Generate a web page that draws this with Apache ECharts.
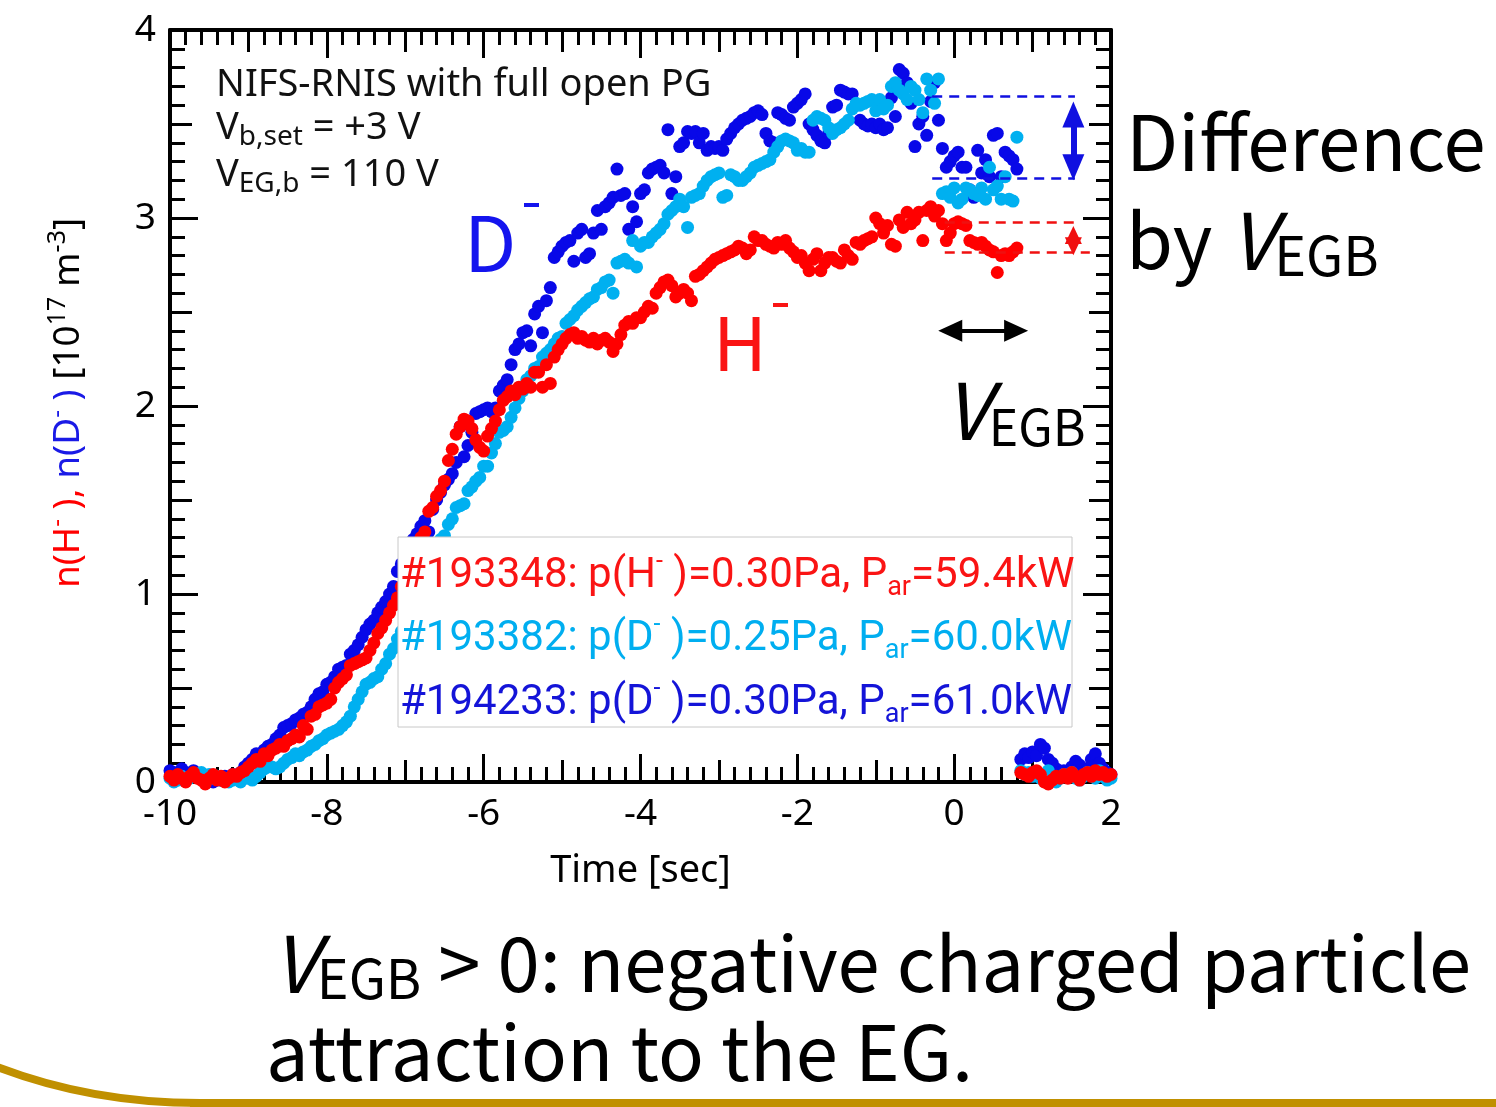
<!DOCTYPE html>
<html lang="en">
<head>
  <meta charset="UTF-8">
  <title>n(H-), n(D-) vs Time</title>
  <script src="https://cdn.jsdelivr.net/npm/echarts@6/dist/echarts.min.js"></script>
  <style>
    html, body { margin: 0; padding: 0; background: #fff; }
    #chart { width: 1496px; height: 1107px; }
  </style>
</head>
<body>
  <div id="chart"></div>
  <script>
    // sampling times [sec]
    var time = [
      -10, -9.95, -9.9, -9.85, -9.8, -9.75, -9.7, -9.65, -9.6, -9.55, -9.5, -9.45, -9.4, -9.35, -9.3, -9.25, -9.2, -9.15, -9.1, -9.05,
      -9, -8.95, -8.9, -8.85, -8.8, -8.75, -8.7, -8.65, -8.6, -8.55, -8.5, -8.45, -8.4, -8.35, -8.3, -8.25, -8.2, -8.15, -8.1, -8.05,
      -8, -7.95, -7.9, -7.85, -7.8, -7.75, -7.7, -7.65, -7.6, -7.55, -7.5, -7.45, -7.4, -7.35, -7.3, -7.25, -7.2, -7.15, -7.1, -7.05,
      -7, -6.95, -6.9, -6.85, -6.8, -6.75, -6.7, -6.65, -6.6, -6.55, -6.5, -6.45, -6.4, -6.35, -6.3, -6.25, -6.2, -6.15, -6.1, -6.05,
      -6, -5.95, -5.9, -5.85, -5.8, -5.75, -5.7, -5.65, -5.6, -5.55, -5.5, -5.45, -5.4, -5.35, -5.3, -5.25, -5.2, -5.15, -5.1, -5.05,
      -5, -4.95, -4.9, -4.85, -4.8, -4.75, -4.7, -4.65, -4.6, -4.55, -4.5, -4.45, -4.4, -4.35, -4.3, -4.25, -4.2, -4.15, -4.1, -4.05,
      -4, -3.95, -3.9, -3.85, -3.8, -3.75, -3.7, -3.65, -3.6, -3.55, -3.5, -3.45, -3.4, -3.35, -3.3, -3.25, -3.2, -3.15, -3.1, -3.05,
      -3, -2.95, -2.9, -2.85, -2.8, -2.75, -2.7, -2.65, -2.6, -2.55, -2.5, -2.45, -2.4, -2.35, -2.3, -2.25, -2.2, -2.15, -2.1, -2.05,
      -2, -1.95, -1.9, -1.85, -1.8, -1.75, -1.7, -1.65, -1.6, -1.55, -1.5, -1.45, -1.4, -1.35, -1.3, -1.25, -1.2, -1.15, -1.1, -1.05,
      -1, -0.95, -0.9, -0.85, -0.8, -0.75, -0.7, -0.65, -0.6, -0.55, -0.5, -0.45, -0.4, -0.35, -0.3, -0.25, -0.2, -0.15, -0.1, -0.05,
      0, 0.05, 0.1, 0.15, 0.2, 0.25, 0.3, 0.35, 0.4, 0.45, 0.5, 0.55, 0.6, 0.65, 0.7, 0.75, 0.8, 0.85, 0.9, 0.95,
      1, 1.05, 1.1, 1.15, 1.2, 1.25, 1.3, 1.35, 1.4, 1.45, 1.5, 1.55, 1.6, 1.65, 1.7, 1.75, 1.8, 1.85, 1.9, 1.95, 2
    ];

    // #193348  H-  p=0.30Pa  [1e17 m^-3]
    var nH193348 = [
      0.03, 0.01, 0.04, 0.02, 0.00, 0.03, 0.05, 0.02, 0.01, -0.01, 0.02, 0.04, 0.01, 0.03, 0.00, 0.02, 0.04, 0.03, 0.05, 0.06,
      0.08, 0.1, 0.12, 0.11, 0.15, 0.14, 0.17, 0.18, 0.2, 0.19, 0.22, 0.23, 0.25, 0.24, 0.3, 0.28, 0.35, 0.36, 0.4, 0.41,
      0.42, 0.44, 0.5, 0.53, 0.55, 0.57, 0.62, 0.63, 0.64, 0.65, 0.66, 0.7, 0.74, 0.79, 0.82, 0.86, 0.9, 0.94, 0.98, 1.04,
      1.1, 1.15, 1.2, 1.25, 1.3, 1.33, 1.44, 1.46, 1.52, 1.55, 1.6, 1.71, 1.77, 1.85, 1.89, 1.93, 1.92, 1.88, 1.82, 1.78,
      1.76, 1.84, 1.88, 1.92, 1.98, 2.03, 2.05, 2.08, 2.06, 2.1, 2.09, 2.12, 2.1, 2.18, 2.18, 2.1, 2.22, 2.12, 2.26, 2.3,
      2.33, 2.36, 2.38, 2.39, 2.36, 2.37, 2.35, 2.34, 2.36, 2.33, 2.35, 2.36, 2.34, 2.29, 2.33, 2.38, 2.43, 2.45, 2.44, 2.47,
      2.47, 2.5, 2.53, 2.52, 2.6, 2.63, 2.66, 2.67, 2.64, 2.58, 2.6, 2.62, 2.6, 2.56, 2.69, 2.7, 2.72, 2.74, 2.76, 2.78,
      2.79, 2.8, 2.81, 2.82, 2.83, 2.85, 2.84, 2.81, 2.83, 2.9, 2.88, 2.88, 2.86, 2.85, 2.84, 2.87, 2.86, 2.88, 2.84, 2.82,
      2.79, 2.8, 2.76, 2.72, 2.78, 2.81, 2.72, 2.76, 2.79, 2.79, 2.77, 2.76, 2.83, 2.8, 2.78, 2.87, 2.86, 2.88, 2.89, 2.9,
      3.0, 2.97, 2.92, 2.96, 2.86, 2.85, 2.99, 2.95, 3.03, 2.97, 2.99, 3.03, 2.88, 3.04, 3.06, 3.01, 3.04, 2.97, 2.88, 2.92,
      2.97, 2.98, 2.97, 2.96, 2.88, 2.87, 2.86, 2.87, 2.85, 2.83, 2.82, 2.71, 2.8, 2.81, 2.8, 2.82, 2.84, 0.05, 0.04, 0.03,
      0.05, 0.06, 0.04, 0.0, -0.01, 0.01, 0.03, 0.02, 0.04, 0.02, 0.05, 0.03, 0.01, 0.04, 0.05, 0.03, 0.06, 0.04, 0.05, 0.03, 0.04
    ];

    // #193382  D-  p=0.25Pa
    var nD193382 = [
      0.02, 0.0, 0.01, 0.03, 0.01, 0.02, 0.04, 0.03, 0.05, 0.03, 0.04, 0.02, 0.03, 0.01, 0.02, 0.0, 0.01, 0.02, 0.0, 0.02,
      0.02, 0.01, 0.03, 0.05, 0.07, 0.08, 0.08, 0.07, 0.08, 0.1, 0.12, 0.13, 0.15, 0.14, 0.16, 0.17, 0.19, 0.2, 0.22, 0.23,
      0.25, 0.26, 0.27, 0.28, 0.3, 0.32, 0.35, 0.4, 0.44, 0.48, 0.52, 0.53, 0.55, 0.56, 0.6, 0.63, 0.68, 0.71, 0.76, 0.8,
      0.85, 0.9, 0.95, 1.0, 1.05, 1.1, 1.15, 1.2, 1.25, 1.29, 1.31, 1.37, 1.4, 1.46, 1.47, 1.48, 1.55, 1.57, 1.6, 1.62,
      1.68, 1.68, 1.75, 1.8, 1.86, 1.87, 1.89, 1.94, 1.99, 2.04, 2.08, 2.14, 2.16, 2.2, 2.21, 2.26, 2.28, 2.3, 2.33, 2.36,
      2.37, 2.44, 2.46, 2.48, 2.51, 2.53, 2.55, 2.57, 2.58, 2.62, 2.63, 2.66, 2.67, 2.6, 2.76, 2.77, 2.78, 2.76, 2.88, 2.74,
      2.85, 2.87, 2.87, 2.9, 2.92, 2.94, 2.97, 3.02, 3.04, 3.06, 3.1, 3.06, 2.95, 3.11, 3.12, 3.13, 3.17, 3.2, 3.22, 3.23,
      3.24, 3.11, 3.12, 3.23, 3.22, 3.2, 3.2, 3.22, 3.24, 3.27, 3.28, 3.29, 3.3, 3.31, 3.35, 3.38, 3.41, 3.42, 3.41, 3.4,
      3.36, 3.37, 3.35, 3.35, 3.52, 3.54, 3.53, 3.52, 3.48, 3.45, 3.47, 3.48, 3.5, 3.52, 3.58, 3.61, 3.6, 3.61, 3.62, 3.63,
      3.57, 3.63, 3.58, 3.6, 3.7, 3.72, 3.68, 3.66, 3.63, 3.7, 3.68, 3.63, 3.56, 3.74, 3.68, 3.61, 3.74, 3.13, 3.14, 3.11,
      3.16, 3.08, 3.1, 3.16, 3.15, 3.13, 3.12, 3.16, 3.1, 3.27, 3.15, 3.17, 3.1, 3.22, 3.1, 3.09, 3.43, 0.06, 0.04, 0.05,
      0.03, 0.05, 0.02, 0.04, 0.06, 0.03, 0.0, 0.02, 0.04, 0.03, 0.05, 0.02, 0.01, 0.03, 0.05, 0.04, 0.02, 0.06, 0.03, 0.01, 0.02
    ];

    // #194233  D-  p=0.30Pa
    var nD194233 = [
      0.06, 0.05, 0.04, 0.07, 0.05, 0.03, 0.06, 0.04, 0.02, 0.03, 0.01, 0.0, 0.02, 0.01, 0.03, 0.02, 0.04, 0.03, 0.05, 0.08,
      0.1, 0.12, 0.15, 0.14, 0.17, 0.19, 0.2, 0.23, 0.25, 0.29, 0.3, 0.31, 0.33, 0.34, 0.36, 0.37, 0.4, 0.44, 0.47, 0.48,
      0.52, 0.53, 0.56, 0.6, 0.61, 0.62, 0.68, 0.7, 0.73, 0.77, 0.81, 0.84, 0.86, 0.9, 0.93, 0.96, 1.0, 1.04, 1.12, 1.16,
      1.2, 1.26, 1.29, 1.32, 1.36, 1.39, 1.33, 1.45, 1.5, 1.54, 1.58, 1.61, 1.64, 1.7, 1.89, 1.73, 1.79, 1.86, 1.96, 1.97,
      1.98, 1.99, 1.97, 1.99, 2.08, 2.11, 2.14, 2.22, 2.3, 2.33, 2.39, 2.4, 2.32, 2.49, 2.53, 2.39, 2.56, 2.63, 2.79, 2.82,
      2.85, 2.87, 2.88, 2.77, 2.92, 2.94, 2.79, 2.81, 2.92, 3.04, 2.94, 3.06, 3.08, 3.11, 3.26, 3.12, 3.13, 2.94, 3.06, 2.98,
      3.13, 3.15, 3.24, 3.26, 3.27, 3.28, 3.24, 3.47, 3.13, 3.22, 3.38, 3.4, 3.46, 3.45, 3.46, 3.4, 3.45, 3.36, 3.38, 3.37,
      3.38, 3.36, 3.42, 3.45, 3.48, 3.5, 3.52, 3.53, 3.54, 3.56, 3.57, 3.55, 3.45, 3.41, 3.4, 3.56, 3.55, 3.53, 3.52, 3.59,
      3.61, 3.63, 3.66, 3.5, 3.47, 3.44, 3.41, 3.4, 3.45, 3.59, 3.6, 3.68, 3.67, 3.66, 3.66, 3.6, 3.52, 3.5, 3.49, 3.5,
      3.48, 3.5, 3.47, 3.48, 3.64, 3.54, 3.79, 3.77, 3.72, 3.61, 3.38, 3.5, 3.54, 3.44, 3.62, 3.72, 3.52, 3.37, 3.27, 3.3,
      3.33, 3.35, 3.27, 3.27, 3.15, 3.11, 3.36, 3.24, 3.31, 3.22, 3.44, 3.45, 3.22, 3.35, 3.33, 3.31, 3.26, 0.12, 0.15, 0.13,
      0.16, 0.14, 0.2, 0.18, 0.12, 0.1, 0.07, 0.05, 0.06, 0.04, 0.08, 0.11, 0.09, 0.05, 0.07, 0.12, 0.15, 0.1, 0.07, 0.05, 0.04
    ];

    // annotation levels (data units)
    var blueLevels = [3.65, 3.21];
    var redLevels = [2.98, 2.82];
    var blueDashX = [-0.28, 1.54];
    var redDashX = [-0.12, 1.54, 1.73];
    var arrowX = 1.52;
    var vegbArrow = { x: [-0.05, 0.79], y: 2.4 };

    var RED = '#ff0000', LBLUE = '#00b0f0', DBLUE = '#0808e8';
    var FONT = '"Noto Sans CJK JP", "Noto Sans", sans-serif';
    var LATIN = '"Noto Sans", "DejaVu Sans", sans-serif';
    var LEG = 'Roboto, "Liberation Sans", sans-serif';

    function pairs(ts, vs) {
      return ts.map(function (t, i) { return [t, vs[i]]; });
    }

    // frame axis: ticks pointing inward, labels only on bottom / left
    function frameAxis(pos, min, max, interval, withLabel, extra) {
      var a = {
        type: 'value', position: pos, min: min, max: max, interval: interval,
        splitLine: { show: false },
        axisLine: { show: true, onZero: false, lineStyle: { color: '#000', width: 4 } },
        axisTick: { show: true, inside: true, length: 28, lineStyle: { color: '#000', width: 3 } },
        minorTick: { show: true, splitNumber: 10, length: 15, lineStyle: { color: '#000', width: 3 } },
        axisLabel: { show: withLabel, color: '#000', fontSize: 37, fontFamily: LATIN, margin: 14 }
      };
      return Object.assign(a, extra || {});
    }
    // medium ticks (odd seconds / half units)
    function midAxis(pos, min, max, interval) {
      return {
        type: 'value', position: pos, min: min, max: max, interval: interval,
        splitLine: { show: false },
        axisLine: { show: false, onZero: false },
        axisTick: { show: true, inside: true, length: 22, lineStyle: { color: '#000', width: 3 } },
        minorTick: { show: false },
        axisLabel: { show: false }
      };
    }

    var dashed = function (color) { return { color: color, width: 2.5, type: [10, 7] }; };

    var legendRich = {
      m: { fontSize: 42, lineHeight: 52, fontFamily: LEG },
      sup: { fontSize: 25, lineHeight: 25, verticalAlign: 'top', fontFamily: LEG },
      sub: { fontSize: 27, lineHeight: 27, verticalAlign: 'bottom', fontFamily: LEG }
    };
    var infoRich = {
      m: { fontSize: 38, lineHeight: 46, fontFamily: LATIN },
      sub: { fontSize: 28, lineHeight: 28, verticalAlign: 'bottom', fontFamily: LATIN }
    };
    var bigRich = {
      m: { fontSize: 76, lineHeight: 84, fontFamily: FONT },
      v: { fontSize: 78, lineHeight: 84, fontStyle: 'italic', fontFamily: FONT },
      s: { fontSize: 54, lineHeight: 54, verticalAlign: 'bottom', fontFamily: FONT },
      s2: { fontSize: 50, lineHeight: 50, verticalAlign: 'bottom', fontFamily: FONT }
    };
    var yRich = {
      r: { fill: RED, fontSize: 37, lineHeight: 46, fontFamily: LATIN },
      rs: { fill: RED, fontSize: 24, lineHeight: 24, verticalAlign: 'top', fontFamily: LATIN },
      b: { fill: '#1a1ae6', fontSize: 37, lineHeight: 46, fontFamily: LATIN },
      bs: { fill: '#1a1ae6', fontSize: 24, lineHeight: 24, verticalAlign: 'top', fontFamily: LATIN },
      k: { fill: '#000', fontSize: 37, lineHeight: 46, fontFamily: LATIN },
      ks: { fill: '#000', fontSize: 25, lineHeight: 25, verticalAlign: 'top', fontFamily: LATIN }
    };

    function label(x, y, text, rich, color) {
      return {
        type: 'text', x: x, y: y, z: 110,
        style: { text: text, rich: rich, fill: color, align: 'left', verticalAlign: 'middle', fontFamily: FONT }
      };
    }

    var chart = echarts.init(document.getElementById('chart'));

    var option = {
      animation: false,
      backgroundColor: '#fff',
      grid: { left: 170, top: 30, width: 941, height: 752, outerBoundsMode: 'none' },
      xAxis: [
        frameAxis('bottom', -10, 2, 2, true, {
          name: 'Time [sec]', nameLocation: 'middle', nameGap: 70,
          nameTextStyle: { color: '#000', fontSize: 38, fontFamily: LATIN }
        }),
        midAxis('bottom', -10, 2, 1),
        frameAxis('top', -10, 2, 2, false),
        midAxis('top', -10, 2, 1)
      ],
      yAxis: [
        frameAxis('left', 0, 4, 1, true),
        midAxis('left', 0, 4, 0.5),
        frameAxis('right', 0, 4, 1, false),
        midAxis('right', 0, 4, 0.5)
      ],
      series: [
        {
          name: '#194233', type: 'scatter', data: pairs(time, nD194233),
          symbolSize: 13, clip: false, itemStyle: { color: DBLUE, opacity: 1 }, z: 2
        },
        {
          name: '#193382', type: 'scatter', data: pairs(time, nD193382),
          symbolSize: 13, clip: false, itemStyle: { color: LBLUE, opacity: 1 }, z: 3
        },
        {
          name: '#193348', type: 'scatter', data: pairs(time, nH193348),
          symbolSize: 13, clip: false, itemStyle: { color: RED, opacity: 1 }, z: 4
        },
        {
          type: 'line', data: [], z: 6, silent: true,
          markLine: {
            silent: true, symbol: 'none', label: { show: false }, animation: false,
            data: [
              [{ coord: [blueDashX[0], blueLevels[0]], lineStyle: dashed('#1010e0') }, { coord: [blueDashX[1], blueLevels[0]] }],
              [{ coord: [blueDashX[0], blueLevels[1]], lineStyle: dashed('#1010e0') }, { coord: [blueDashX[1], blueLevels[1]] }],
              [{ coord: [redDashX[0], redLevels[0]], lineStyle: dashed('#f01010') }, { coord: [redDashX[1], redLevels[0]] }],
              [{ coord: [redDashX[0], redLevels[1]], lineStyle: dashed('#f01010') }, { coord: [redDashX[2], redLevels[1]] }],
              [
                { coord: [arrowX, 3.27], symbol: 'triangle', symbolSize: [22, 26], lineStyle: { color: '#1010e0', width: 6, type: 'solid' } },
                { coord: [arrowX, 3.55], symbol: 'triangle', symbolSize: [22, 26] }
              ],
              [
                { coord: [arrowX, 2.85], symbol: 'triangle', symbolSize: [17, 18], lineStyle: { color: '#f01010', width: 3, type: 'solid' } },
                { coord: [arrowX, 2.91], symbol: 'triangle', symbolSize: [17, 18] }
              ],
              [
                { coord: [vegbArrow.x[0], vegbArrow.y], symbol: 'triangle', symbolSize: [22, 24], lineStyle: { color: '#000', width: 4, type: 'solid' } },
                { coord: [vegbArrow.x[1], vegbArrow.y], symbol: 'triangle', symbolSize: [22, 24] }
              ]
            ]
          }
        }
      ],
      graphic: [
        // legend box (white, covers points)
        {
          type: 'rect', z: 100,
          shape: { x: 398, y: 537, width: 674, height: 190 },
          style: { fill: '#fff', stroke: '#c8c8c8', lineWidth: 1 }
        },
        label(400, 576, '{m|#193348: p(H}{sup|-}{m| )=0.30Pa, P}{sub|ar}{m|=59.4kW}', legendRich, '#fa1414'),
        label(400, 639, '{m|#193382: p(D}{sup|-}{m| )=0.25Pa, P}{sub|ar}{m|=60.0kW}', legendRich, '#00aef0'),
        label(400, 703, '{m|#194233: p(D}{sup|-}{m| )=0.30Pa, P}{sub|ar}{m|=61.0kW}', legendRich, '#1414d8'),

        // conditions
        label(216, 85, '{m|NIFS-RNIS with full open PG}', infoRich, '#111'),
        label(216, 128, '{m|V}{sub|b,set}{m| = +3 V}', infoRich, '#111'),
        label(216, 175, '{m|V}{sub|EG,b}{m| = 110 V}', infoRich, '#111'),

        // species labels
        { type: 'text', x: 464, y: 243, z: 110, style: { text: 'D', fill: '#1414ee', fontSize: 76, fontFamily: FONT, verticalAlign: 'middle' } },
        { type: 'rect', z: 110, shape: { x: 524, y: 203, width: 15, height: 4 }, style: { fill: '#1414ee' } },
        { type: 'text', x: 713, y: 343, z: 110, style: { text: 'H', fill: '#fa1414', fontSize: 74, fontFamily: FONT, verticalAlign: 'middle' } },
        { type: 'rect', z: 110, shape: { x: 773, y: 303, width: 15, height: 4 }, style: { fill: '#fa1414' } },

        // y axis title (reads bottom to top)
        {
          type: 'text', x: 68, y: 403, z: 110, rotation: Math.PI / 2,
          style: {
            text: '{r|n(H}{rs|-}{r| ),} {b|n(D}{bs|-}{b| )} {k|[10}{ks|17}{k| m}{ks|-3}{k|]}',
            rich: yRich, fill: '#000', align: 'center', verticalAlign: 'middle', fontFamily: LATIN, fontSize: 37
          }
        },

        // right side notes
        label(1126, 142, '{m|Difference}', bigRich, '#000'),
        label(1126, 240, '{m|by }{v|V}{s|EGB}', bigRich, '#000'),
        label(944, 410, '{v|V}{s2|EGB}', bigRich, '#000'),

        // bottom notes
        label(272, 963, '{v|V}{s|EGB}{m| > 0: negative charged particle}', bigRich, '#000'),
        label(266, 1052, '{m|attraction to the EG.}', bigRich, '#000'),

        // slide decoration
        {
          type: 'bezierCurve', z: 90,
          shape: { x1: -5, y1: 1066, cpx1: 90, cpy1: 1103, x2: 200, y2: 1103 },
          style: { stroke: '#c09000', lineWidth: 8, fill: null }
        },
        { type: 'rect', z: 90, shape: { x: 190, y: 1099, width: 1310, height: 8 }, style: { fill: '#c09000' } }
      ]
    };

    chart.setOption(option);
  </script>
</body>
</html>
